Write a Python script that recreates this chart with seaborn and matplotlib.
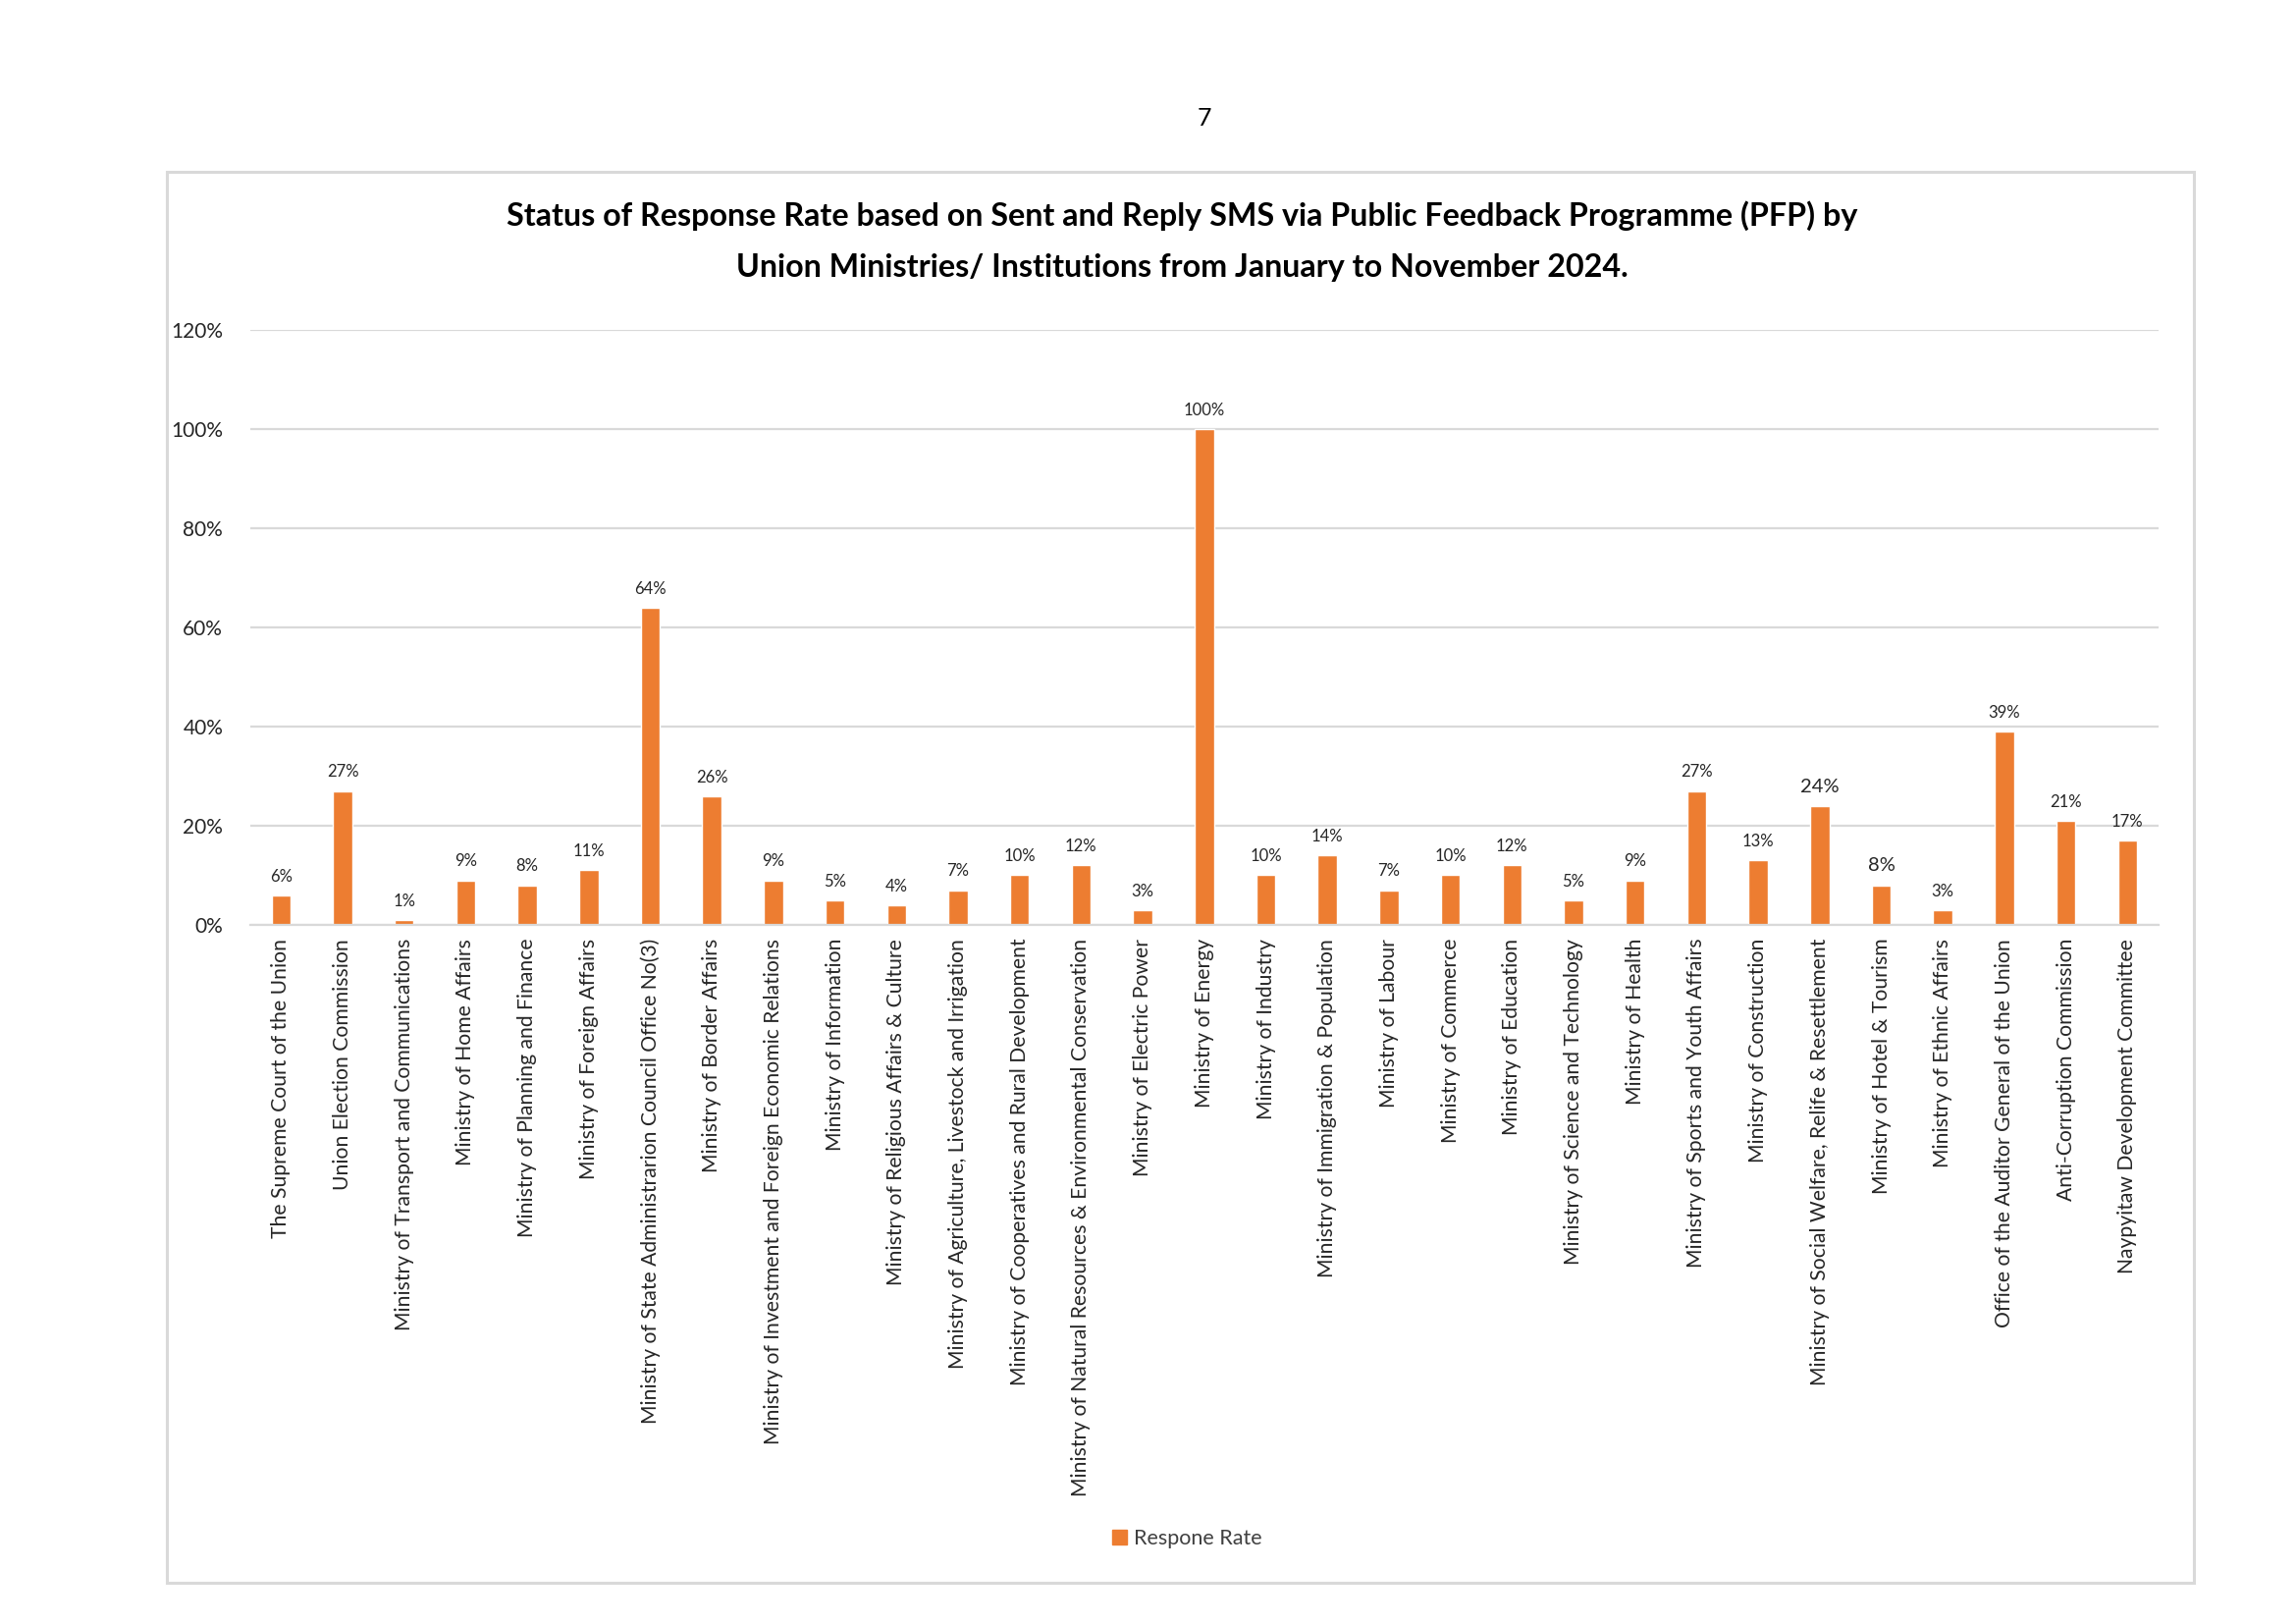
import matplotlib.pyplot as plt
import seaborn as sb
import pandas as pd
from matplotlib.patches import Rectangle

# data
institutions = [
    "The Supreme Court of the Union",
    "Union Election Commission",
    "Ministry of Transport and Communications",
    "Ministry of Home Affairs",
    "Ministry of Planning and Finance",
    "Ministry of Foreign Affairs",
    "Ministry of State Administrarion Council Office No(3)",
    "Ministry of Border Affairs",
    "Ministry of Investment and Foreign Economic Relations",
    "Ministry of Information",
    "Ministry of Religious Affairs & Culture",
    "Ministry of Agriculture, Livestock and Irrigation",
    "Ministry of Cooperatives and Rural Development",
    "Ministry of Natural Resources & Environmental Conservation",
    "Ministry of Electric Power",
    "Ministry of Energy",
    "Ministry of Industry",
    "Ministry of Immigration & Population",
    "Ministry of Labour",
    "Ministry of Commerce",
    "Ministry of Education",
    "Ministry of Science and Technology",
    "Ministry of Health",
    "Ministry of Sports and Youth Affairs",
    "Ministry of Construction",
    "Ministry of Social Welfare, Relife & Resettlement",
    "Ministry of Hotel & Tourism",
    "Ministry of Ethnic Affairs",
    "Office of the Auditor General of the Union",
    "Anti-Corruption Commission",
    "Naypyitaw Development Committee",
]
response_rate = [6, 27, 1, 9, 8, 11, 64, 26, 9, 5, 4, 7, 10, 12, 3, 100,
                 10, 14, 7, 10, 12, 5, 9, 27, 13, 24, 8, 3, 39, 21, 17]
y_ticks = [0, 20, 40, 60, 80, 100, 120]
title_lines = [
    "Status of Response Rate based on Sent and Reply SMS via Public Feedback Programme (PFP) by",
    "Union Ministries/ Institutions from January to November 2024.",
]
legend_label = "Respone Rate"

sb.set_style("white")
plt.rcParams['font.family'] = ['Lato', 'DejaVu Sans']

bar_color = "#ED7D31"
grid_color = "#D9D9D9"

df = pd.DataFrame({"institution": institutions, "rate": response_rate})

figure = plt.figure(figsize=(23.39, 16.54), dpi=100)
axis = figure.add_axes([0.109, 0.4305, 0.831, 0.3664])

sb.barplot(data=df, x="institution", y="rate", color=bar_color,
           width=0.31, saturation=1, ax=axis)

axis.set_ylim(0, 120)
axis.set_xlim(-0.5, len(institutions) - 0.5)
axis.set_yticks(y_ticks)
axis.set_yticklabels([f"{t}%" for t in y_ticks], fontsize=15, color="#262626")
axis.yaxis.grid(True, color=grid_color, linewidth=1.6)
axis.set_axisbelow(True)
axis.tick_params(axis="x", labelrotation=90, labelsize=15.2, colors="#262626", length=0, pad=10)
axis.tick_params(axis="y", length=0, pad=20)
for label in axis.get_xticklabels():
    label.set_verticalalignment("top")
for side in ["top", "right", "left"]:
    axis.spines[side].set_visible(False)
axis.spines["bottom"].set_color(grid_color)
axis.spines["bottom"].set_linewidth(1.6)
axis.set_xlabel("")
axis.set_ylabel("")

# value labels on top of each bar
labels = axis.bar_label(axis.containers[0], labels=[f"{v}%" for v in response_rate],
                        padding=8, fontsize=12, color="#262626")
for lab, name in zip(labels, institutions):
    if name in ("Ministry of Social Welfare, Relife & Resettlement", "Ministry of Hotel & Tourism"):
        lab.set_fontsize(14.5)

# titles, page number, legend and chart frame
figure.text(0.515, 0.867, title_lines[0], ha="center", va="center",
            fontsize=23.2, fontweight="bold", color="black")
figure.text(0.515, 0.835, title_lines[1], ha="center", va="center",
            fontsize=23.2, fontweight="bold", color="black")
figure.text(0.5246, 0.9274, "7", ha="center", va="center", fontsize=18, color="black")

legend_handle = Rectangle((0, 0), 1, 1, color=bar_color)
figure.legend([legend_handle], [legend_label], loc="center", bbox_to_anchor=(0.517, 0.0526),
              frameon=False, fontsize=15.5, handlelength=0.7, handleheight=0.7,
              handletextpad=0.3, labelcolor="#404040")

figure.patches.append(Rectangle((0.0727, 0.0254), 0.883, 0.8688, transform=figure.transFigure,
                                fill=False, edgecolor=grid_color, linewidth=2.2))

plt.savefig("out.png", dpi=100)
